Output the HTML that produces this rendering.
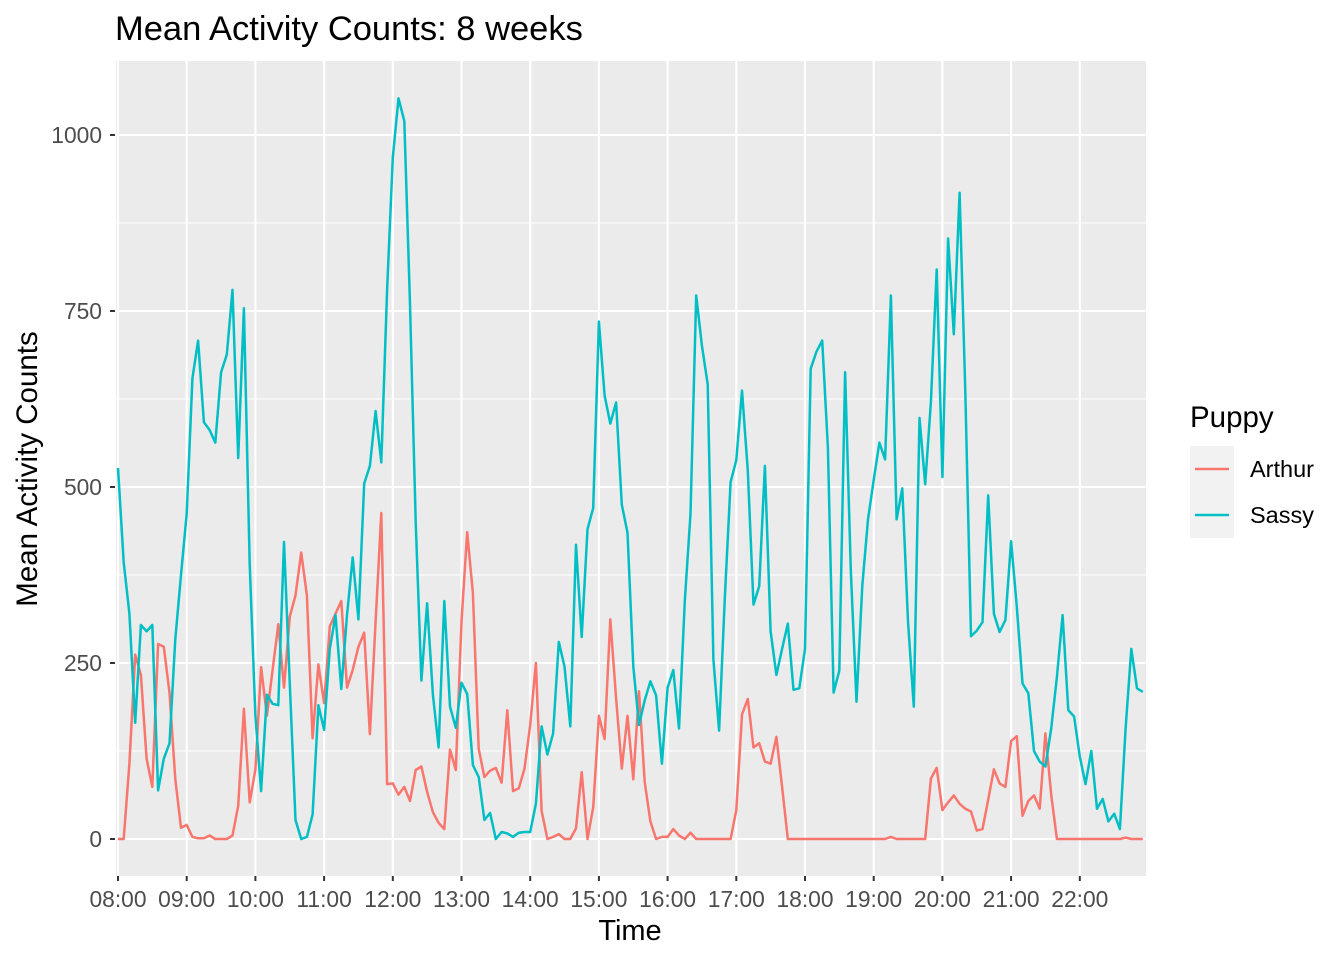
<!DOCTYPE html>
<html><head><meta charset="utf-8"><style>
body{margin:0;background:#fff;}
svg text{font-family:"Liberation Sans",Arial,sans-serif;}
</style></head><body>
<svg id="chart" width="1344" height="960" xmlns="http://www.w3.org/2000/svg">
<rect x="0" y="0" width="1344" height="960" fill="#fff"/>
<text x="115" y="40" font-size="34.5" fill="#000">Mean Activity Counts: 8 weeks</text>
<rect x="116" y="61" width="1030" height="815" fill="#EBEBEB"/>
<g id="grid"></g>
<g id="lines"></g>
<g id="axes"></g>
<text x="630" y="940" font-size="29" text-anchor="middle" fill="#000">Time</text>
<text transform="translate(37,469) rotate(-90)" font-size="29.5" text-anchor="middle" fill="#000">Mean Activity Counts</text>
<g>
<text x="1190" y="427" font-size="29.5" fill="#000">Puppy</text>
<g>
<rect x="1190" y="446" width="44" height="46" fill="#F2F2F2"/>
<line x1="1195" y1="469" x2="1229" y2="469" stroke="#F8766D" stroke-width="2.4"/>
<text x="1250" y="477" font-size="23.5" fill="#000">Arthur</text>
</g>
<g>
<rect x="1190" y="492" width="44" height="46" fill="#F2F2F2"/>
<line x1="1195" y1="515" x2="1229" y2="515" stroke="#00BFC4" stroke-width="2.4"/>
<text x="1250" y="523" font-size="23.5" fill="#000">Sassy</text>
</g>
</g>
</svg>
<script>
const arthur=[0,0,107,262,233,114,74,277,273,208,85,16,20,3,1,1,5,0,0,0,5,47,185,52,99,244,175,240,305,215,316,346,407,346,143,248,193,302,320,338,215,240,273,293,149,309,463,78,79,63,74,54,98,103,67,38,23,14,127,98,309,436,349,128,88,97,101,80,183,68,72,100,162,250,40,0,3,7,0,0,15,95,0,45,175,142,312,200,100,175,85,210,81,25,0,3,3,14,5,0,9,0,0,0,0,0,0,0,41,177,199,130,136,110,107,145,74,0,0,0,0,0,0,0,0,0,0,0,0,0,0,0,0,0,0,3,0,0,0,0,0,0,86,101,41,52,62,50,43,39,12,14,56,99,79,74,139,146,33,54,62,43,150,63,0,0,0,0,0,0,0,0,0,0,0,0,2,0,0,0];
const sassy=[527,393,320,165,304,295,304,69,114,136,284,375,462,654,708,592,581,563,663,688,780,541,754,390,175,68,205,192,190,422,220,27,0,3,35,190,155,270,318,213,318,400,312,505,530,608,535,780,968,1052,1020,760,450,225,335,205,130,338,188,158,222,206,105,88,27,37,0,10,8,3,9,10,10,50,160,120,150,280,245,160,418,287,440,470,735,630,590,620,475,435,245,162,197,224,204,107,215,240,157,338,462,772,701,646,255,154,342,507,538,637,523,333,359,530,295,233,270,306,212,214,270,668,692,708,556,208,239,663,382,195,360,454,510,563,539,772,454,498,309,188,598,504,621,809,514,853,717,918,636,288,296,308,488,320,294,311,423,330,221,207,125,110,103,157,230,318,183,174,117,78,125,43,57,25,36,14,157,270,214,209];
const yTicks=[0,250,500,750,1000];
const yMinor=[125,375,625,875];
const xTickLabels=["08:00","09:00","10:00","11:00","12:00","13:00","14:00","15:00","16:00","17:00","18:00","19:00","20:00","21:00","22:00"];
const stepMinutes=5;

const NS="http://www.w3.org/2000/svg";
function y(v){return 839-v*0.704;}
function xIdx(i){return 118+i*(68.7*stepMinutes/60);}
function xHour(h){return 118+h*68.7;}
function mk(tag,attrs,parent){const e=document.createElementNS(NS,tag);for(const k in attrs)e.setAttribute(k,attrs[k]);parent.appendChild(e);return e;}
const grid=document.getElementById('grid'),lines=document.getElementById('lines'),axes=document.getElementById('axes');
yMinor.forEach(v=>{const l=mk('line',{x1:116,x2:1146,y1:y(v),y2:y(v),stroke:'#fff','stroke-width':1},grid);

});
yTicks.forEach(v=>{const l=mk('line',{x1:116,x2:1146,y1:y(v),y2:y(v),stroke:'#fff','stroke-width':2.1},grid);


const t=mk('line',{x1:110,x2:115,y1:y(v),y2:y(v),stroke:'#333','stroke-width':2},axes);


const tx=mk('text',{x:102,y:y(v)+8,'font-size':22.8,'text-anchor':'end',fill:'#4D4D4D'},axes);tx.textContent=v;

});
xTickLabels.forEach((lab,h)=>{const xx=xHour(h);
const l=mk('line',{x1:xx,x2:xx,y1:61,y2:876,stroke:'#fff','stroke-width':2.1},grid);


const t=mk('line',{x1:xx,x2:xx,y1:876,y2:881,stroke:'#333','stroke-width':2},axes);


const tx=mk('text',{x:xx,y:907,'font-size':22.8,'text-anchor':'middle',fill:'#4D4D4D'},axes);tx.textContent=lab;

});
function series(data,color,name){const pts=data.map((v,i)=>xIdx(i).toFixed(1)+','+y(v).toFixed(1)).join(' ');
const p=mk('polyline',{points:pts,fill:'none',stroke:color,'stroke-width':2.5,'stroke-linejoin':'round'},lines);

}
series(arthur,'#F8766D','arthur-line');
series(sassy,'#00BFC4','sassy-line');
</script>
</body></html>
